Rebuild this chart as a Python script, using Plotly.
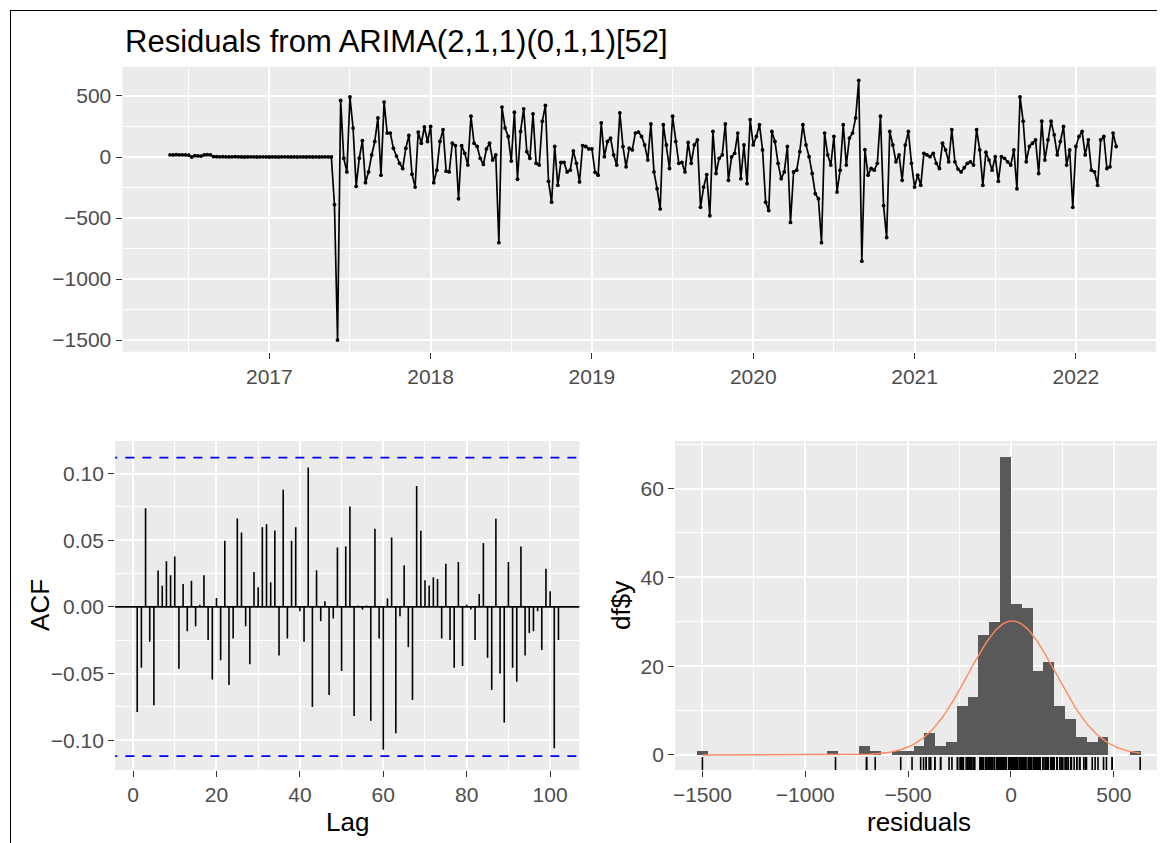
import numpy as np
import plotly.graph_objects as go

W, H = 1165, 843          # browser window
OX, OY = 8, 8             # page body margin offset
FW, FH = W - OX, H - OY   # figure size
FONT = "Liberation Sans, Arial, sans-serif"

# ---------------- data ----------------
title_text = "Residuals from ARIMA(2,1,1)(0,1,1)[52]"
start_year = 2016
start_week = 21
frequency = 52

residuals = [
    18, 17, 19, 18, 18, 17, 16, 0, 11, 9, 8, 17, 19, 18,
    4, 3, 2, 3, 2, 1, 2, 3, 2, 1,
    0, 1, 2, 1, 0, 1, 2, 1, 0, 1,
    1, 0, 1, 2, 1, 0, 1, 0, 1, 1,
    0, 1, 0, 1, 0, 1, 2, 1, 0,
    -390, -1500, 464, -10, -122, 492, 237, -240, -10, 135,
    -210, -122, 17, 127, 320, -149, 450, 196, 196, 72,
    8, -52, -94, 72, 177, -141, -246, 204, 113, 246,
    127, 251, -210, -108, 127, 224, -116, -122, 113, 94,
    -342, 94, 30, -66, 334, 113, 86, -11, -61, 66,
    113, -25, 17, -702, 409, 238, 168, -33, 367, -182,
    210, 395, 44, -11, 354, -52, -66, 293, 423, -199,
    -370, 86, -232, -44, -44, -122, -108, 50, -52, -204,
    94, 86, 66, 66, -125, -149, 279, 3, 127, 155,
    17, -66, 362, 86, -80, 72, 58, 196, 204, 168,
    99, -25, 271, -122, -260, -425, 265, 99, -94, 334,
    127, -52, -44, -122, 119, -52, 99, 141, -412, -246,
    -144, -481, 210, -135, -11, 17, 271, -191, 0, 30,
    196, -177, 99, -218, 307, 99, 168, 265, 58, -370,
    -439, 210, 127, -52, -177, -122, 86, -536, -122, -108,
    44, 265, 99, 3, -135, -301, -342, -702, 196, 17,
    -66, 168, -287, -108, 265, -66, 155, 196, 320, 628,
    -853, 60, -149, -94, -108, -52, 334, -398, -660, 210,
    99, -39, 17, -191, 99, 210, -52, -246, -149, -232,
    30, 17, 3, 30, -52, -94, 113, 58, -39, 224,
    -39, -99, -122, -88, -52, -39, -66, 224, 58, -232,
    39, -25, -108, 3, -199, 3, -11, -39, -66, 58,
    -260, 492, 293, -39, 86, 113, 141, -135, 293, -25,
    141, 293, 182, 17, 127, 251, -66, 58, -412, 86,
    168, 210, 17, 141, -108, -122, -232, 141, 168, -94,
    -80, 196, 86,
]

acf_values = [
    -0.0788, -0.0456, 0.0741, -0.0262, -0.0738, 0.0274, 0.0159, 0.0342, 0.0237, 0.0379,
    -0.0464, 0.0172, -0.0182, 0.0197, -0.0145, 0.0017, 0.0237, -0.0249, -0.0544, 0.0067,
    -0.0401, 0.0496, -0.0586, -0.0237, 0.0663, 0.0559, -0.0145, -0.0431, 0.0262, 0.0147,
    0.0598, 0.0621, 0.0185, 0.0574, -0.0364, 0.0880, -0.0237, 0.0496, 0.0598, -0.0032,
    -0.0262, 0.1047, -0.0751, 0.0274, -0.0107, 0.0042, -0.0661, -0.0087, 0.0446, -0.0481,
    0.0454, 0.0753, -0.0818, 0.0010, -0.0020, 0.0010, -0.0855, 0.0586, -0.0237, -0.1072,
    0.0063, 0.0521, -0.0948, -0.0070, 0.0312, -0.0302, -0.0698, 0.0908, 0.0571, 0.0200,
    0.0160, 0.0222, 0.0209, -0.0237, 0.0324, -0.0249, -0.0456, 0.0337, -0.0444, 0.0017,
    -0.0020, -0.0249, 0.0097, 0.0479, -0.0382, -0.0623, 0.0661, -0.0499, -0.0868, 0.0337,
    -0.0456, -0.0561, 0.0454, -0.0364, -0.0195, -0.0182, -0.0032, -0.0324, 0.0287, 0.0117,
    -0.1060, -0.0249,
]

hist_binwidth = 52.6
hist_bin_index = list(range(-29, 12))
hist_counts = [
    1, 0, 0, 0, 0, 0, 0, 0, 0, 0, 0, 0,   # -29 .. -18
    1, 0, 0, 2, 1, 0, 1, 1, 2, 5, 2, 3,   # -17 .. -6
    11, 13, 27, 30, 67, 34, 33, 19, 21,   # -5 .. 3
    11, 8, 4, 3, 4, 0, 0, 1,              # 4 .. 11
]

time_ticks = [2017, 2018, 2019, 2020, 2021, 2022]
time_ticklabels = ["2017", "2018", "2019", "2020", "2021", "2022"]
time_minor = [2016.5, 2017.5, 2018.5, 2019.5, 2020.5, 2021.5, 2022.5]
resid_ticks = [-1500, -1000, -500, 0, 500]
resid_ticklabels = ["\u22121500", "\u22121000", "\u2212500", "0", "500"]
resid_minor = [-1250, -750, -250, 250]
lag_ticks = [0, 20, 40, 60, 80, 100]
lag_ticklabels = ["0", "20", "40", "60", "80", "100"]
lag_minor = [10, 30, 50, 70, 90]
acf_ticks = [-0.10, -0.05, 0.0, 0.05, 0.10]
acf_ticklabels = ["\u22120.10", "\u22120.05", "0.00", "0.05", "0.10"]
acf_minor = [-0.075, -0.025, 0.025, 0.075]
count_ticks = [0, 20, 40, 60]
count_ticklabels = ["0", "20", "40", "60"]
count_minor = [10, 30, 50, 70]
hist_minor = [-1250, -750, -250, 250]

# ---------------- derived ----------------
res = np.array(residuals, dtype=float)
n = len(res)
times = start_year + (start_week - 1) / frequency + np.arange(n) / frequency
lags = np.arange(1, len(acf_values) + 1)
ci = 1.96 / np.sqrt(n)

centers = (np.array(hist_bin_index) + 0.5) * hist_binwidth
mu, sd = res.mean(), res.std(ddof=1)
xc = np.linspace(res.min(), res.max(), 300)
yc = np.exp(-0.5 * ((xc - mu) / sd) ** 2) / (sd * np.sqrt(2 * np.pi)) * n * hist_binwidth

seg_x, seg_y = [], []
for l, a in zip(lags, acf_values):
    seg_x += [l, l, None]
    seg_y += [0, a, None]


# screen pixel -> paper fraction
def px(x):
    return (x - OX) / FW


def py(y):
    return 1 - (y - OY) / FH


def dx(a, b):
    return [px(a), px(b)]


def dy(top, bottom):
    return [py(bottom), py(top)]


def axis(domain, rng, tv, tt, minor_vals, anchor):
    return dict(
        domain=domain, range=rng, anchor=anchor,
        tickmode="array", tickvals=tv, ticktext=tt,
        showgrid=True, gridcolor="white", gridwidth=2.2,
        minor=dict(tickmode="array", tickvals=minor_vals, showgrid=True,
                   gridcolor="white", gridwidth=1.1, ticks=""),
        ticks="outside", ticklen=6, tickwidth=1.1, tickcolor="#333333",
        tickfont=dict(family=FONT, size=21, color="#4D4D4D"),
        zeroline=False, showline=False, fixedrange=True,
    )


fig = go.Figure()

# top: residual time series
fig.add_trace(go.Scatter(
    x=times, y=res, mode="lines+markers", xaxis="x", yaxis="y",
    line=dict(color="black", width=1.7),
    marker=dict(color="black", size=3.8), showlegend=False, hoverinfo="skip"))

# ACF
fig.add_trace(go.Scatter(
    x=[-10, 120], y=[0, 0], mode="lines", xaxis="x2", yaxis="y2",
    line=dict(color="black", width=1.8), showlegend=False, hoverinfo="skip"))
fig.add_trace(go.Scatter(
    x=seg_x, y=seg_y, mode="lines", xaxis="x2", yaxis="y2",
    line=dict(color="black", width=1.6), showlegend=False, hoverinfo="skip"))
for c in (ci, -ci):
    fig.add_trace(go.Scatter(
        x=[-10, 120], y=[c, c], mode="lines", xaxis="x2", yaxis="y2",
        line=dict(color="#0000FF", width=1.7, dash="9px,8px"),
        showlegend=False, hoverinfo="skip"))

# histogram
fig.add_trace(go.Bar(
    x=centers, y=hist_counts, width=hist_binwidth, xaxis="x3", yaxis="y3",
    marker=dict(color="#595959", line=dict(width=0)),
    showlegend=False, hoverinfo="skip"))
fig.add_trace(go.Scatter(
    x=xc, y=yc, mode="lines", xaxis="x3", yaxis="y3",
    line=dict(color="#FF8A62", width=1.4), showlegend=False, hoverinfo="skip"))
fig.add_trace(go.Scatter(
    x=res, y=np.full(n, -2.2), mode="markers", xaxis="x3", yaxis="y3",
    marker=dict(symbol="line-ns-open", size=11, color="black",
                line=dict(color="black", width=1.6)),
    showlegend=False, hoverinfo="skip"))

fig.update_layout(
    width=FW, height=FH,
    margin=dict(l=0, r=0, t=0, b=0),
    paper_bgcolor="white", plot_bgcolor="#EBEBEB",
    font=dict(family=FONT, color="black"),
    bargap=0,
    xaxis=axis(dx(120.7, 1163), [2016.09, 2022.54], time_ticks, time_ticklabels, time_minor, "y"),
    yaxis=axis(dy(66.7, 351.7), [-1595, 740], resid_ticks, resid_ticklabels, resid_minor, "x"),
    xaxis2=axis(dx(113.3, 578.3), [-4.3, 107.0], lag_ticks, lag_ticklabels, lag_minor, "y2"),
    yaxis2=axis(dy(441, 770), [-0.1224, 0.1245], acf_ticks, acf_ticklabels, acf_minor, "x2"),
    xaxis3=axis(dx(674.2, 1163), [-1633, 739], resid_ticks, resid_ticklabels, hist_minor, "y3"),
    yaxis3=axis(dy(441, 770), [-3.38, 70.7], count_ticks, count_ticklabels, count_minor, "x3"),
)

annotations = [
    dict(text=title_text, x=px(120.7), y=py(41), xanchor="left", yanchor="middle",
         font=dict(size=31, color="black", family=FONT)),
    dict(text="Lag", x=px(345.8), y=py(822), xanchor="center", yanchor="middle",
         font=dict(size=26, color="black", family=FONT)),
    dict(text="ACF", x=px(38), y=py(605), xanchor="center", yanchor="middle", textangle=-90,
         font=dict(size=26, color="black", family=FONT)),
    dict(text="residuals", x=px(918.6), y=py(822), xanchor="center", yanchor="middle",
         font=dict(size=26, color="black", family=FONT)),
    dict(text="df$y", x=px(620), y=py(605), xanchor="center", yanchor="middle", textangle=-90,
         font=dict(size=26, color="black", family=FONT)),
]
for a in annotations:
    a.update(xref="paper", yref="paper", showarrow=False)
fig.update_layout(annotations=annotations)

# outer frame lines of the picture
fig.add_shape(type="line", xref="paper", yref="paper", x0=px(8), x1=1, y0=py(10.5), y1=py(10.5),
              line=dict(color="black", width=1))
fig.add_shape(type="line", xref="paper", yref="paper", x0=px(8.5), x1=px(8.5), y0=0, y1=py(10.5),
              line=dict(color="black", width=1))

fig.write_html("out.html")
